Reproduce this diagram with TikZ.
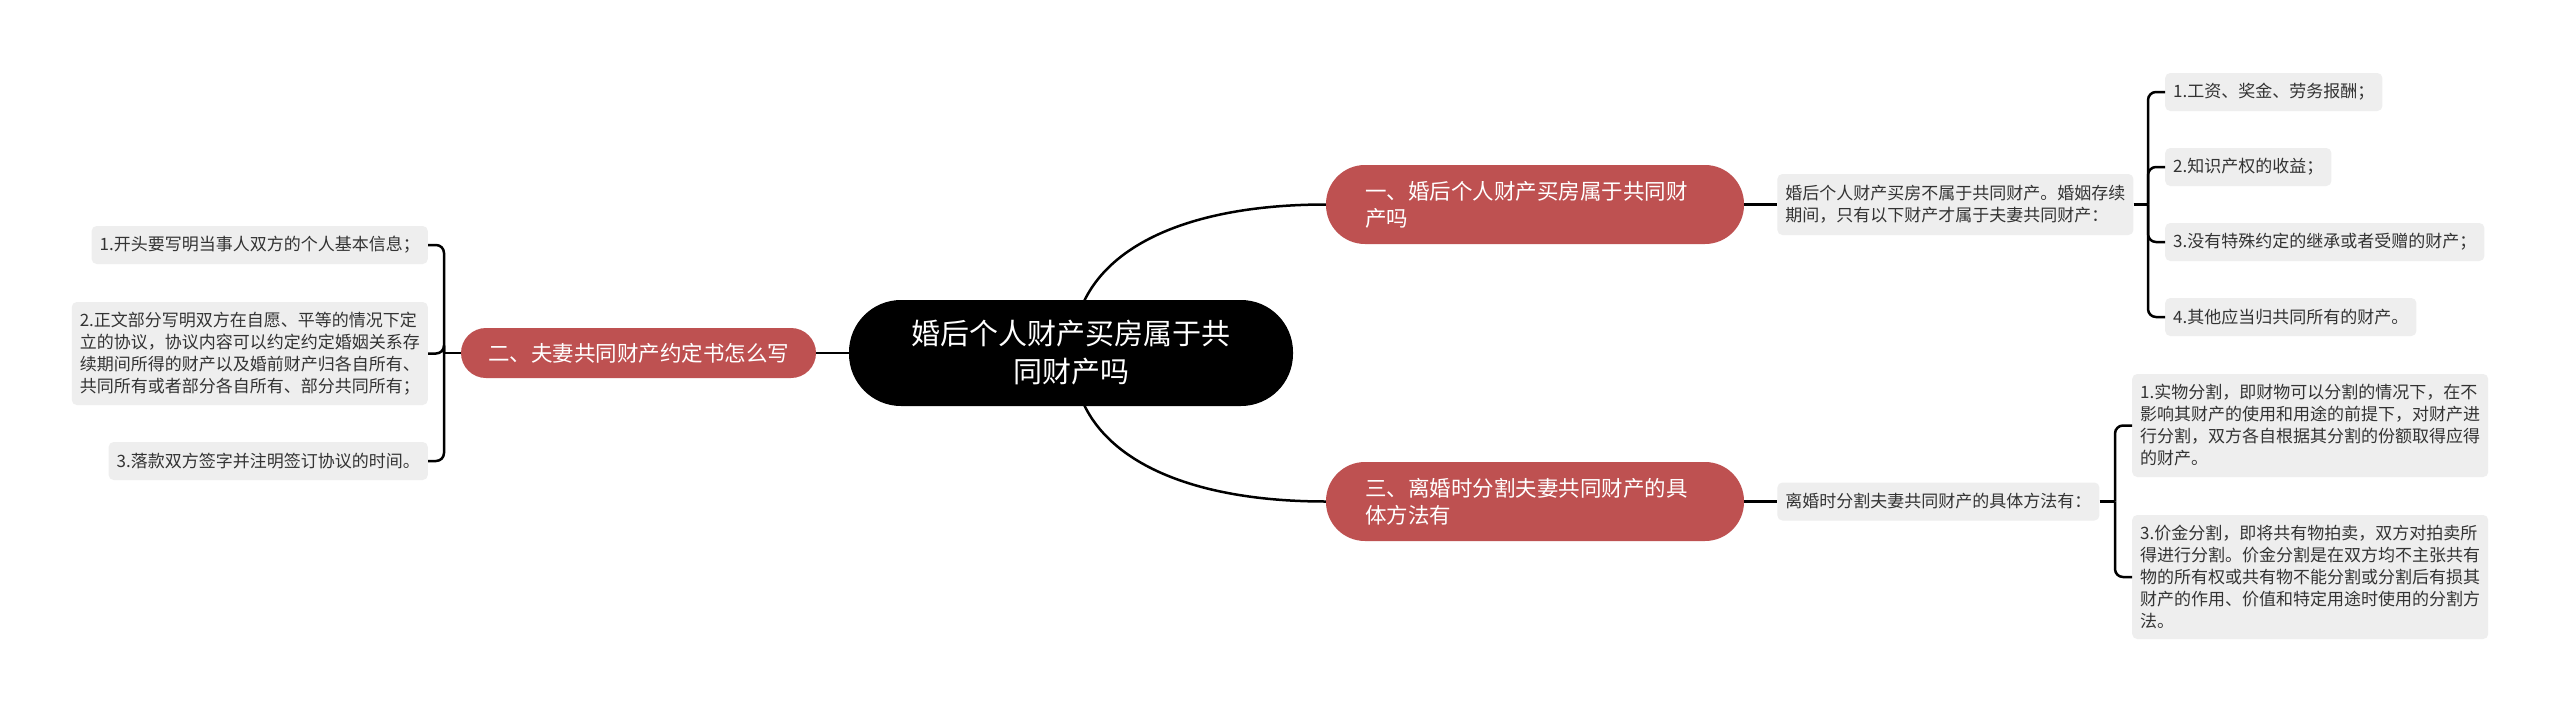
\documentclass[tikz,border=0pt]{standalone}
\usepackage{fontspec}
\setmainfont{Noto Sans CJK SC}
\usepackage{tikz}
\usetikzlibrary{positioning, backgrounds}
\definecolor{branchred}{HTML}{BE5151}
\definecolor{leafgray}{HTML}{EEEEEE}

\begin{document}
\begin{tikzpicture}[x=1pt, y=-1pt,
    root/.style={fill=black, text=white, rounded corners=52pt, minimum width=444pt, minimum height=106pt, align=center, font=\fontsize{29}{38}\selectfont},
    branch/.style={fill=branchred, text=white, minimum width=418pt, minimum height=79pt, rounded corners=39pt, font=\fontsize{21.5}{27}\selectfont},
    leaf/.style={fill=leafgray, text=black!80, rounded corners=5pt, inner xsep=8pt, inner ysep=8pt, minimum height=38pt, align=left, font=\fontsize{17}{22}\selectfont},
    link/.style={line width=2.5pt}]
    \useasboundingbox (0,0) rectangle (2560,713);

    % Racine et branches
    \node[root] (root) at (1071,353) {婚后个人财产买房属于共\\同财产吗};
    \node[branch, minimum width=355pt, minimum height=50pt, rounded corners=25pt] (b2) at (638.5,353) {二、夫妻共同财产约定书怎么写};
    \node[branch, text width=340pt, inner xsep=39pt, align=left] (b1) at (1535,204.5) {一、婚后个人财产买房属于共同财\\产吗};
    \node[branch, text width=340pt, inner xsep=39pt, align=left] (b3) at (1535,501.5) {三、离婚时分割夫妻共同财产的具\\体方法有};

    % Sous-noeuds
    \node[leaf, minimum height=61pt, right=33pt of b1] (d1) {婚后个人财产买房不属于共同财产。婚姻存续\\期间，只有以下财产才属于夫妻共同财产：};
    \node[leaf, right=33pt of b3] (d2) {离婚时分割夫妻共同财产的具体方法有：};

    % Feuilles
    \node[leaf, anchor=west] (r1) at (2165,92) {1.工资、奖金、劳务报酬；};
    \node[leaf, anchor=west] (r2) at (2165,167) {2.知识产权的收益；};
    \node[leaf, anchor=west] (r3) at (2165,242) {3.没有特殊约定的继承或者受赠的财产；};
    \node[leaf, anchor=west] (r4) at (2165,317) {4.其他应当归共同所有的财产。};

    \node[leaf, anchor=west, minimum height=103pt] (s1) at (2132,425.5) {1.实物分割，即财物可以分割的情况下，在不\\影响其财产的使用和用途的前提下，对财产进\\行分割，双方各自根据其分割的份额取得应得\\的财产。};
    \node[leaf, anchor=west, minimum height=124pt] (s2) at (2132,577) {3.价金分割，即将共有物拍卖，双方对拍卖所\\得进行分割。价金分割是在双方均不主张共有\\物的所有权或共有物不能分割或分割后有损其\\财产的作用、价值和特定用途时使用的分割方\\法。};

    \node[leaf, anchor=east] (l1) at (428,245) {1.开头要写明当事人双方的个人基本信息；};
    \node[leaf, anchor=east, minimum height=103pt] (l2) at (428,353.5) {2.正文部分写明双方在自愿、平等的情况下定\\立的协议，协议内容可以约定约定婚姻关系存\\续期间所得的财产以及婚前财产归各自所有、\\共同所有或者部分各自所有、部分共同所有；};
    \node[leaf, anchor=east] (l3) at (428,461) {3.落款双方签字并注明签订协议的时间。};

    % Liens
    \begin{scope}[on background layer]
        \fill[white] (0,0) rectangle (2560,713);
        \draw[link] ([xshift=11pt, yshift=-6pt]root.north) .. controls (1110,240) and (1200,204.5) .. (b1.west);
        \draw[link] ([xshift=11pt, yshift=6pt]root.south) .. controls (1110,466) and (1200,501.5) .. (b3.west);
    \end{scope}
    \draw[link] (root.west) -- (b2.east);
    \draw[link] (b1.east) -- (d1.west);
    \draw[link] (b3.east) -- (d2.west);

    \coordinate (j1) at (2148,204.5);
    \coordinate (j2) at (2115,501.5);
    \coordinate (j3) at (444,353);
    \draw[link] (d1.east) -- (j1);
    \foreach \n in {r1,r2,r3,r4}
        \draw[link, rounded corners=8pt] (\n.west) -| (j1);
    \draw[link] (d2.east) -- (j2);
    \foreach \n in {s1,s2}
        \draw[link, rounded corners=8pt] (\n.west) -| (j2);
    \draw[link] (b2.west) -- (j3);
    \foreach \n in {l1,l2,l3}
        \draw[link, rounded corners=8pt] (\n.east) -| (j3);
\end{tikzpicture}
\end{document}
